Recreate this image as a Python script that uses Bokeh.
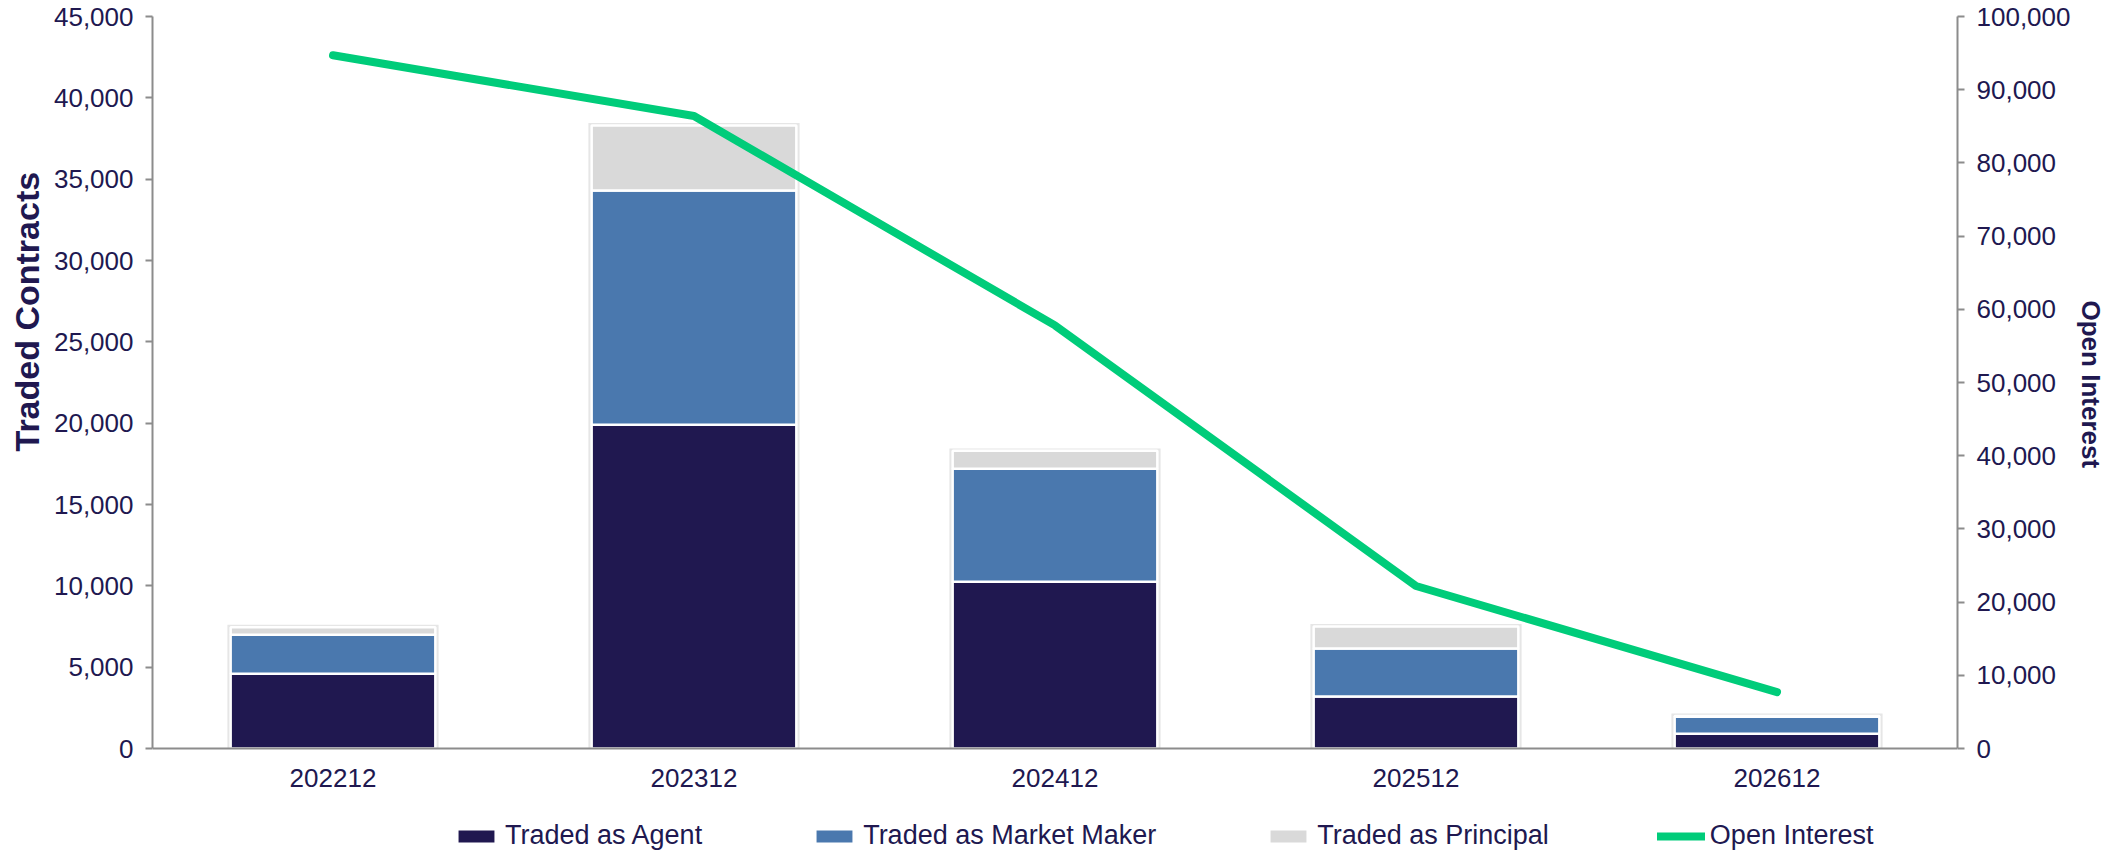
from bokeh.plotting import figure
from bokeh.models import (FactorRange, Range1d, LinearAxis, CategoricalAxis, FixedTicker,
                          NumeralTickFormatter, ColumnDataSource, Legend, LegendItem, Title)
from bokeh.embed import file_html
from bokeh.resources import INLINE

categories = ["202212", "202312", "202412", "202512", "202612"]
traded_agent = [4600, 19900, 10250, 3200, 900]
traded_market_maker = [2400, 14400, 6950, 2950, 1050]
traded_principal = [450, 4000, 1100, 1350, 50]
open_interest = [94700, 86400, 57800, 22200, 7700]

left_ticks = list(range(0, 45001, 5000))
right_ticks = list(range(0, 100001, 10000))

NAVY = "#201850"
BLUE = "#4A78AE"
GREY = "#D9D9D9"
GREEN = "#00CC7A"
TEXT = "#201850"
AXIS = "#8C8C8C"
FONT = "Liberation Sans"

# layout: plot area 16..748 px, legend strip below it inside the frame
H, TOP, PLOT_H, BELOW = 854, 16, 732, 106
LMAX, RMAX = 45000, 100000
l_start = -LMAX * BELOW / PLOT_H
r_start = -RMAX * BELOW / PLOT_H

totals = [a + m + p for a, m, p in zip(traded_agent, traded_market_maker, traded_principal)]
src = ColumnDataSource(dict(cat=categories, agent=traded_agent, mm=traded_market_maker,
                            principal=traded_principal, total=totals,
                            shadow=[t + 150 for t in totals], oi=open_interest))

p = figure(width=2109, height=H, x_range=FactorRange(*categories, range_padding=0),
           y_range=Range1d(l_start, LMAX), output_backend="svg", toolbar_location=None,
           x_axis_location=None,
           min_border_left=150, min_border_right=152, min_border_top=TOP, min_border_bottom=0)
p.extra_y_ranges = {"oi": Range1d(r_start, RMAX)}
p.outline_line_color = None
p.xgrid.visible = False
p.ygrid.visible = False

# soft shadow behind bars
p.vbar(x="cat", top="shadow", bottom=0, width=0.585, source=src,
       fill_color="#E6E6E6", line_color=None)

bars = p.vbar_stack(["agent", "mm", "principal"], x="cat", width=0.567, source=src,
                    color=[NAVY, BLUE, GREY], line_color="white", line_width=2.5)

line = p.line(x="cat", y="oi", source=src, y_range_name="oi", line_color=GREEN,
              line_width=8, line_cap="round", line_join="round")

# x axis drawn at y = 0
xa = CategoricalAxis(fixed_location=0)
xa.axis_line_color = AXIS
xa.axis_line_width = 2
xa.major_tick_line_color = None
xa.minor_tick_line_color = None
xa.major_label_standoff = 14
xa.major_label_text_font = FONT
xa.major_label_text_font_size = "26px"
xa.major_label_text_color = TEXT
p.add_layout(xa, "below")

ya = p.yaxis[0]
ya.ticker = FixedTicker(ticks=left_ticks)
ya.formatter = NumeralTickFormatter(format="0,0")
ya.bounds = (0, LMAX)

ra = LinearAxis(y_range_name="oi", ticker=FixedTicker(ticks=right_ticks),
                formatter=NumeralTickFormatter(format="0,0"), bounds=(0, RMAX))
p.add_layout(ra, "right")

for ax in (ya, ra):
    ax.axis_line_color = AXIS
    ax.axis_line_width = 2
    ax.major_tick_line_color = AXIS
    ax.major_tick_line_width = 2
    ax.major_tick_out = 7
    ax.major_tick_in = 0
    ax.minor_tick_line_color = None
    ax.major_label_standoff = 12
    ax.major_label_text_font = FONT
    ax.major_label_text_font_size = "26px"
    ax.major_label_text_color = TEXT

# axis titles
t_left = Title(text="Traded Contracts", align="left", offset=403, text_font=FONT,
               text_font_size="34px", text_font_style="bold", text_color=TEXT, standoff=10)
p.add_layout(t_left, "left")
t_right = Title(text="Open Interest", align="left", offset=284, text_font=FONT,
                text_font_size="26px", text_font_style="bold", text_color=TEXT, standoff=4)
p.add_layout(t_right, "right")

legend = Legend(items=[
    LegendItem(label="Traded as Agent", renderers=[bars[0]]),
    LegendItem(label="Traded as Market Maker", renderers=[bars[1]]),
    LegendItem(label="Traded as Principal", renderers=[bars[2]]),
    LegendItem(label="Open Interest", renderers=[line]),
], orientation="horizontal", location=(300, 3))
legend.background_fill_alpha = 0
legend.border_line_alpha = 0
legend.padding = 0
legend.margin = 0
legend.spacing = 108
legend.label_standoff = 5
legend.glyph_width = 48
legend.glyph_height = 18
legend.label_text_font = FONT
legend.label_text_font_size = "27px"
legend.label_text_color = TEXT
p.add_layout(legend, "center")

open("out.html", "w").write(file_html(p, INLINE))
